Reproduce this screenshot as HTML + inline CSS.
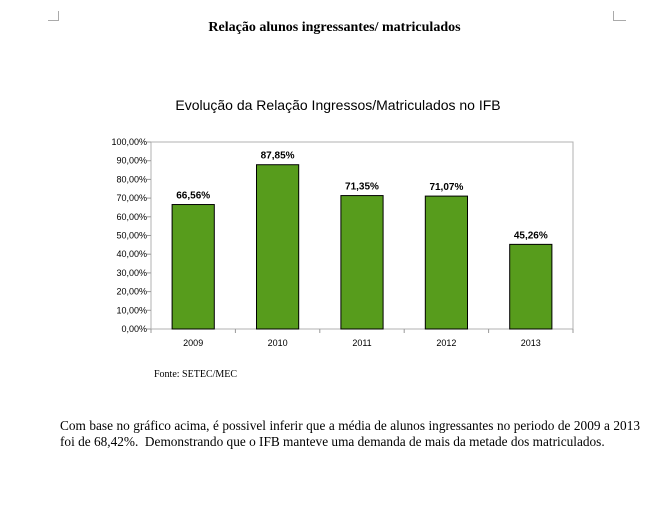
<!DOCTYPE html>
<html><head><meta charset="utf-8"><style>
body{margin:0;width:669px;height:511px;background:#fff;position:relative;overflow:hidden;font-family:"Liberation Serif",serif}
.abs{position:absolute}
</style></head><body>
<div class="abs" style="left:48px;top:11px;width:10px;height:9px;border-right:1px solid #aaa;border-bottom:1px solid #aaa"></div>
<div class="abs" style="left:613px;top:11px;width:12px;height:9px;border-left:1px solid #aaa;border-bottom:1px solid #aaa"></div>
<div class="abs" style="left:0;width:669px;top:20px;text-align:center;font-weight:bold;font-size:14px">Relação alunos ingressantes/ matriculados</div>
<svg class="abs" style="left:0;top:0" width="669" height="511">
<text x="338" y="110" text-anchor="middle" font-family="Liberation Sans, sans-serif" font-size="14">Evolução da Relação Ingressos/Matriculados no IFB</text>
<g id="chart"></g>
</svg>
<div class="abs" style="left:154px;top:369px;font-size:10px">Fonte: SETEC/MEC</div>
<div class="abs" style="left:60px;top:418px;width:580px;font-size:13.3px;line-height:16px;text-align:justify">Com base no gráfico acima, é possivel inferir que a média de alunos ingressantes no periodo de 2009 a 2013 foi de 68,42%.&nbsp; Demonstrando que o IFB manteve uma demanda de mais da metade dos matriculados.</div>
<script>
const categories=["2009","2010","2011","2012","2013"];
const values=[66.56,87.85,71.35,71.07,45.26];
const labels=["66,56%","87,85%","71,35%","71,07%","45,26%"];
const ticks=[0,10,20,30,40,50,60,70,80,90,100];
const L=151,R=573,T=142,B=329;
const ns="http://www.w3.org/2000/svg",g=document.getElementById('chart');
const y=v=>B-(v/100)*(B-T);
const cw=(R-L)/categories.length;
const x=i=>L+cw*i;
function mk(t,a){const e=document.createElementNS(ns,t);for(const k in a)e.setAttribute(k,a[k]);g.appendChild(e);return e;}
const frame=mk('rect',{x:L,y:T,width:R-L,height:B-T,fill:'none',stroke:'#b0b0b0'});


ticks.forEach(t=>{
 const tk=mk('line',{x1:L-4,x2:L,y1:y(t),y2:y(t),stroke:'#999'});
 
 
 const tl=mk('text',{x:L-4,y:y(t)+3,'text-anchor':'end','font-size':'9','font-family':'Liberation Sans, sans-serif'});
 tl.textContent=t.toFixed(2).replace('.',',')+'%';
 
 
});
for(let i=0;i<=categories.length;i++){
 const xt=mk('line',{x1:x(i),x2:x(i),y1:B,y2:B+4,stroke:'#999'});
 
 
}
categories.forEach((c,i)=>{
 const cx=x(i)+cw/2,bw=cw/2;
 const b=mk('rect',{x:cx-bw/2,y:y(values[i]),width:bw,height:B-y(values[i]),fill:'#579c1c',stroke:'#000','stroke-width':'1'});
 
 
 const vl=mk('text',{x:cx,y:y(values[i])-6,'text-anchor':'middle','font-size':'10','font-weight':'bold','font-family':'Liberation Sans, sans-serif'});
 vl.textContent=labels[i];
 
 
 const xl=mk('text',{x:cx,y:B+17,'text-anchor':'middle','font-size':'9','font-family':'Liberation Sans, sans-serif'});
 xl.textContent=c;
 
 
});
</script>
</body></html>
